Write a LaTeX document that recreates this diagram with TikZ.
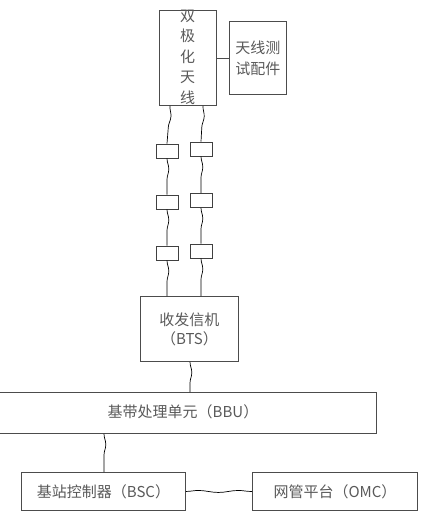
\documentclass[tikz,border=0pt]{standalone}
\usepackage{fontspec}
\newfontfamily\cjk{Noto Sans CJK SC}
\usetikzlibrary{decorations.pathmorphing}
\begin{document}
\begin{tikzpicture}[x=1pt,y=-1pt,
  box/.style={draw=black!70, line width=0.9pt, inner sep=0pt, text=black!65, font=\cjk\fontsize{15}{18}\selectfont, align=center},
  small/.style={draw=black!75, line width=0.9pt, inner sep=0pt, minimum width=22pt, minimum height=14pt},
  wire/.style={draw=black, line width=0.7pt, decorate, decoration={snake, amplitude=1.8pt, segment length=34pt}},
  flatwire/.style={draw=black, line width=0.7pt, decorate, decoration={snake, amplitude=1pt, segment length=40pt}},
  plain/.style={draw=black!70, line width=0.9pt}]
\useasboundingbox (0,0) rectangle (425,517);
\node[box, minimum width=57pt, minimum height=95pt, anchor=north west] (ant) at (159,10) {};
\node[text=black!65, font=\cjk\fontsize{15}{20.5}\selectfont, align=center, anchor=north] (antt) at (187.5,6) {双\\极\\化\\天\\线};
\node[box, minimum width=57pt, minimum height=73pt, anchor=north west, font=\cjk\fontsize{15}{21}\selectfont] (test) at (229,21) {天线测\\试配件};
\draw[plain] (ant.east |- test.west) -- (test.west);
\node[small] (l1) at (167,151) {};
\node[small] (l2) at (167,202) {};
\node[small] (l3) at (167,253) {};
\node[small] (r1) at (201,149) {};
\node[small] (r2) at (201,200.5) {};
\node[small] (r3) at (201,251) {};
\node[box, minimum width=98pt, minimum height=65pt, anchor=north west, font=\cjk\fontsize{15}{19}\selectfont] (bts) at (140,296) {收发信机\\（BTS）};
\node[box, minimum width=377pt, minimum height=41pt, anchor=north west] (bbu) at (-1,392) {};
\node[text=black!65, font=\cjk\fontsize{15}{18}\selectfont] (bbut) at (183,412) {基带处理单元（BBU）};
\node[box, minimum width=164pt, minimum height=38pt, anchor=north west] (bsc) at (21,472) {基站控制器（BSC）};
\node[box, minimum width=165pt, minimum height=38pt, anchor=north west] (omc) at (252,472) {网管平台（OMC）};
\draw[wire] (ant.south -| 170,0) -- (l1.north);
\draw[wire] (l1.south) -- (l2.north);
\draw[wire] (l2.south) -- (l3.north);
\draw[wire] (l3.south) -- (bts.north -| l3.south);
\draw[wire] (ant.south -| 203,0) -- (r1.north);
\draw[wire] (r1.south) -- (r2.north);
\draw[wire] (r2.south) -- (r3.north);
\draw[wire] (r3.south) -- (bts.north -| r3.south);
\draw[wire] (bts.south -| 190,0) -- (bbu.north -| 190,0);
\draw[wire] (bbu.south -| 104,0) -- (bsc.north -| 104,0);
\draw[flatwire] (bsc.east) -- (omc.west);
\end{tikzpicture}
\end{document}
